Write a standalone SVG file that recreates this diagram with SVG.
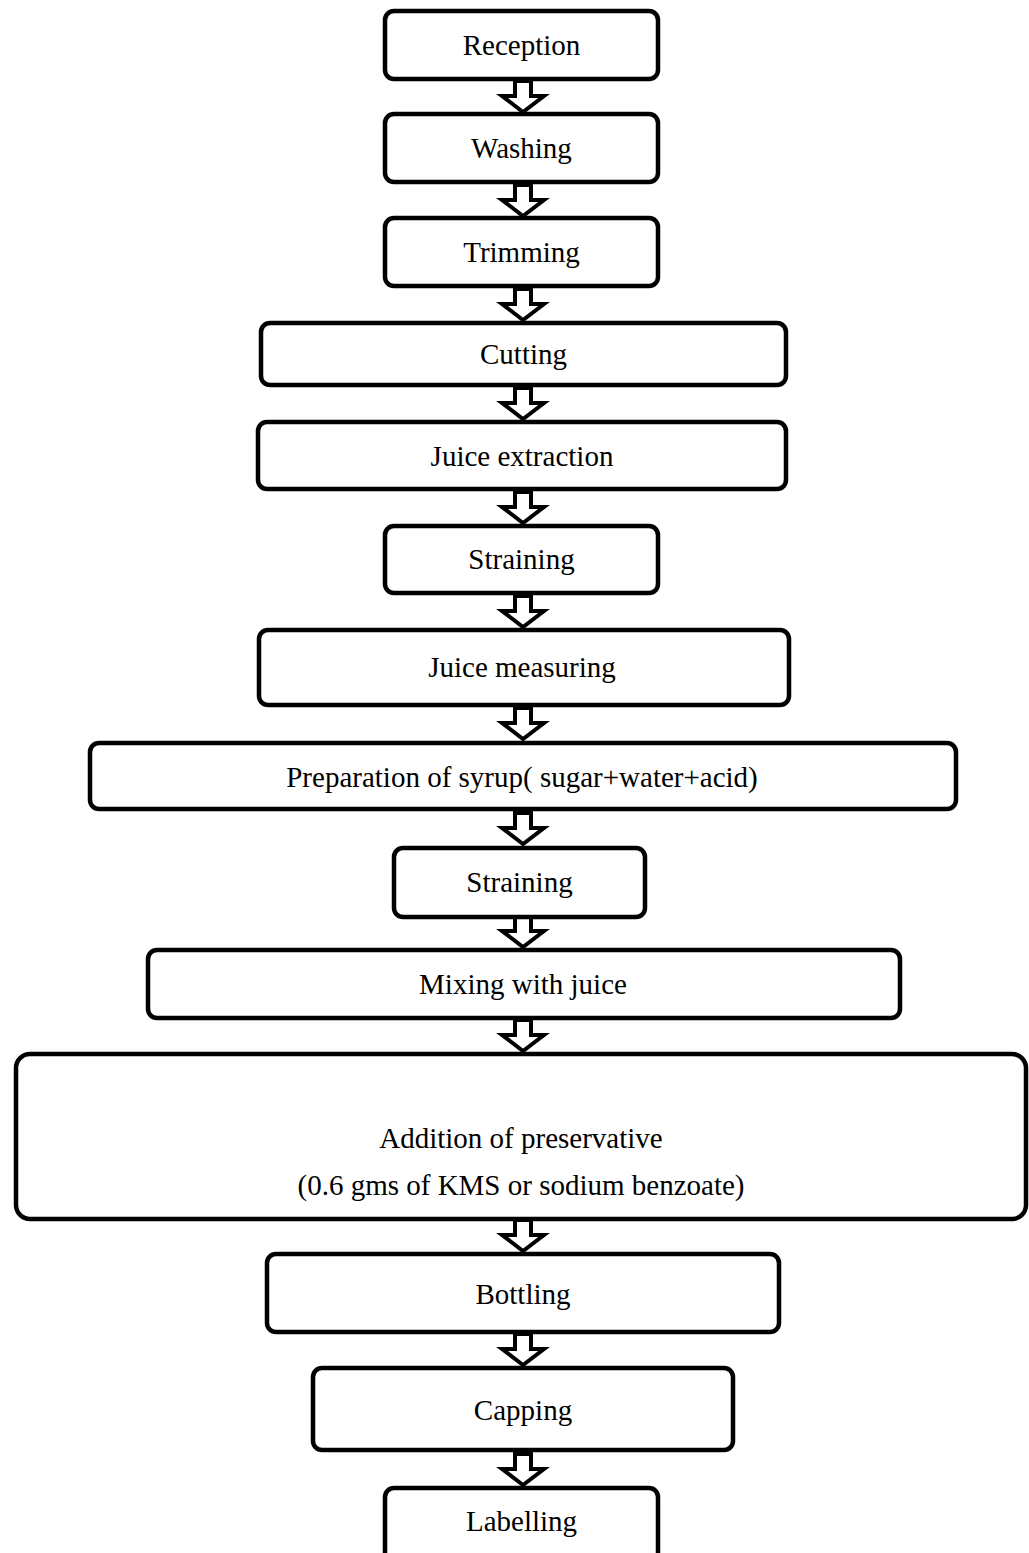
<svg xmlns="http://www.w3.org/2000/svg" width="1029" height="1553" viewBox="0 0 1029 1553">
  <style>
    .box { fill: #ffffff; stroke: #000000; stroke-width: 4.5; }
    .lbl { font-family: "Liberation Serif", "Times New Roman", serif; font-size: 29px; fill: #000000; text-anchor: middle; }
    .arr { fill: #ffffff; stroke: #000000; stroke-width: 4; stroke-linejoin: miter; }
  </style>
  <defs>
    <!-- hollow block arrow, tip at (0,0), drawn upward from tip -->
    <path id="blockArrow" d="M -8 -31 V -16 H -21 L 0 0 L 21 -16 H 8 V -31 Z"/>
  </defs>
  <rect width="1029" height="1553" fill="#ffffff"/>

  <g id="connectors">
    <use href="#blockArrow" class="arr" x="523" y="112"/>
    <use href="#blockArrow" class="arr" x="523" y="216"/>
    <use href="#blockArrow" class="arr" x="523" y="320"/>
    <use href="#blockArrow" class="arr" x="523" y="419"/>
    <use href="#blockArrow" class="arr" x="523" y="523"/>
    <use href="#blockArrow" class="arr" x="523" y="627"/>
    <use href="#blockArrow" class="arr" x="523" y="739"/>
    <use href="#blockArrow" class="arr" x="523" y="844"/>
    <use href="#blockArrow" class="arr" x="523" y="947"/>
    <use href="#blockArrow" class="arr" x="523" y="1051"/>
    <use href="#blockArrow" class="arr" x="523" y="1251"/>
    <use href="#blockArrow" class="arr" x="523" y="1365"/>
    <use href="#blockArrow" class="arr" x="523" y="1485"/>
  </g>

  <g id="reception">
    <rect class="box" x="385" y="11" width="273" height="68" rx="9"/>
    <text class="lbl" x="521.5" y="55">Reception</text>
  </g>
  <g id="washing">
    <rect class="box" x="385" y="114" width="273" height="68" rx="9"/>
    <text class="lbl" x="521.5" y="158">Washing</text>
  </g>
  <g id="trimming">
    <rect class="box" x="385" y="218" width="273" height="68" rx="9"/>
    <text class="lbl" x="521.5" y="262">Trimming</text>
  </g>
  <g id="cutting">
    <rect class="box" x="261" y="323" width="525" height="62" rx="9"/>
    <text class="lbl" x="523.5" y="364">Cutting</text>
  </g>
  <g id="juice-extraction">
    <rect class="box" x="258" y="422" width="528" height="67" rx="9"/>
    <text class="lbl" x="522" y="466">Juice extraction</text>
  </g>
  <g id="straining-1">
    <rect class="box" x="385" y="526" width="273" height="67" rx="9"/>
    <text class="lbl" x="521.5" y="569">Straining</text>
  </g>
  <g id="juice-measuring">
    <rect class="box" x="259" y="630" width="530" height="75" rx="9"/>
    <text class="lbl" x="522" y="677">Juice measuring</text>
  </g>
  <g id="syrup-preparation">
    <rect class="box" x="90" y="743" width="866" height="66" rx="9"/>
    <text class="lbl" x="522" y="787">Preparation of syrup( sugar+water+acid)</text>
  </g>
  <g id="straining-2">
    <rect class="box" x="394" y="848" width="251" height="69" rx="9"/>
    <text class="lbl" x="519.5" y="892">Straining</text>
  </g>
  <g id="mixing">
    <rect class="box" x="148" y="950" width="752" height="68" rx="9"/>
    <text class="lbl" x="523" y="994">Mixing with juice</text>
  </g>
  <g id="preservative">
    <rect class="box" x="16" y="1054" width="1010" height="165" rx="14"/>
    <text class="lbl" x="521" y="1148">Addition of preservative</text>
    <text class="lbl" x="521" y="1195">(0.6 gms of KMS or sodium benzoate)</text>
  </g>
  <g id="bottling">
    <rect class="box" x="267" y="1254" width="512" height="78" rx="9"/>
    <text class="lbl" x="523" y="1304">Bottling</text>
  </g>
  <g id="capping">
    <rect class="box" x="313" y="1368" width="420" height="82" rx="9"/>
    <text class="lbl" x="523" y="1420">Capping</text>
  </g>
  <g id="labelling">
    <rect class="box" x="385" y="1488" width="273" height="75" rx="9"/>
    <text class="lbl" x="521.5" y="1531">Labelling</text>
  </g>
</svg>
